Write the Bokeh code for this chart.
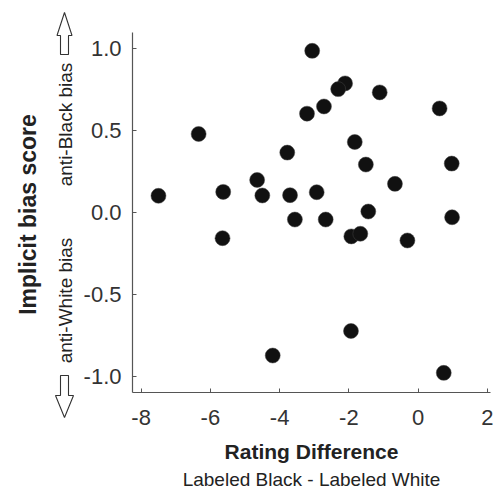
import math
from bokeh.plotting import figure
from bokeh.layouts import row
from bokeh.models import FixedTicker, NumeralTickFormatter, Title, Range1d
from bokeh.core.properties import value
from bokeh.embed import file_html
from bokeh.resources import INLINE

# data
rating_diff = [-3.06, -2.11, -2.31, -1.11, 0.62, -2.72, -3.21, -6.34, -1.83, -3.78,
               -1.51, 0.97, -4.65, -0.67, -7.50, -5.63, -4.50, -3.70, -2.93,
               -3.56, -2.67, -1.44, 0.98, -5.65, -1.93, -1.67, -0.31, -1.94, -4.20, 0.74]
bias_score = [0.988, 0.789, 0.754, 0.734, 0.636, 0.648, 0.604, 0.480, 0.431, 0.366,
              0.293, 0.299, 0.199, 0.175, 0.102, 0.126, 0.104, 0.106, 0.124,
              -0.043, -0.043, 0.006, -0.029, -0.157, -0.146, -0.130, -0.171, -0.724, -0.874, -0.980]
x_ticks = [-8, -6, -4, -2, 0, 2]
y_ticks = [-1.0, -0.5, 0.0, 0.5, 1.0]
y_title = "Implicit bias score"
y_upper_note = "anti-Black bias"
y_lower_note = "anti-White bias"
x_title = "Rating Difference"
x_subtitle = "Labeled Black - Labeled White"

FONT = "Liberation Sans"
TXT = "#222222"
AX = "#555555"
H = 494
SIDE_W = 80

x0, x1 = -8.25, 2.09
y0, y1 = -1.1, 1.1

# ---------- main scatter ----------
p = figure(width=493 - SIDE_W, height=H, output_backend="svg", toolbar_location=None,
           x_range=Range1d(x0, x1), y_range=Range1d(y0, y1),
           min_border_left=127 - SIDE_W, min_border_top=32, min_border_right=3,
           min_border_bottom=102)
p.frame_align = False
p.outline_line_color = None
p.grid.visible = False

p.scatter(rating_diff, bias_score, size=15, fill_color="#111111", line_color="#444444",
          line_width=0.5)

for ax in (p.xaxis[0], p.yaxis[0]):
    ax.axis_line_color = AX
    ax.axis_line_width = 1.2
    ax.major_tick_line_color = AX
    ax.major_tick_in = 4
    ax.major_tick_out = 0
    ax.minor_tick_line_color = None
    ax.major_label_text_font = FONT
    ax.major_label_text_font_size = "22px"
    ax.major_label_text_color = "#333333"
    ax.axis_label_text_font = FONT
    ax.axis_label_text_font_style = "bold"
    ax.axis_label_text_color = TXT

p.xaxis.ticker = FixedTicker(ticks=x_ticks)
p.yaxis.ticker = FixedTicker(ticks=y_ticks)
p.xaxis.formatter = NumeralTickFormatter(format="0")
p.yaxis.formatter = NumeralTickFormatter(format="0.0")
p.xaxis.major_label_standoff = 17
p.yaxis.major_label_standoff = 11

p.xaxis.axis_label = x_title
p.xaxis.axis_label_text_font_size = "21px"
p.xaxis.axis_label_standoff = 12

sub = Title(text=x_subtitle, align="center", text_font=FONT,
            text_font_size="19px", text_font_style="normal", text_color=TXT, offset=0,
            standoff=3)
p.add_layout(sub, "below")

# ---------- left strip: y title, bias notes, hollow arrows (pixel space) ----------
s = figure(width=SIDE_W, height=H, output_backend="svg", toolbar_location=None,
           x_range=Range1d(0, SIDE_W), y_range=Range1d(0, H),
           min_border=0, x_axis_type=None, y_axis_type=None)
s.frame_align = False
s.outline_line_color = None
s.grid.visible = False

def Y(py):
    return H - py

s.text(x=[27], y=[Y(214)], text=[y_title], angle=math.pi / 2, text_align="center",
       text_baseline="middle", text_font=value(FONT), text_font_size="23px",
       text_font_style="bold", text_color=TXT)
s.text(x=[65, 65], y=[Y(124), Y(300)], text=[y_upper_note, y_lower_note],
       angle=math.pi / 2, text_align="center", text_baseline="middle",
       text_font=value(FONT), text_font_size="19px", text_color=TXT)

def arrow(xc, tip, base, end, hw, sw):
    xs = [xc, xc + hw, xc + sw, xc + sw, xc - sw, xc - sw, xc - hw]
    ys = [Y(v) for v in (tip, base, base, end, end, base, base)]
    return xs, ys

ua = arrow(64, 12, 35, 54, 7.5, 4)
da = arrow(64, 417, 395, 375, 9, 4)
s.patches(xs=[ua[0], da[0]], ys=[ua[1], da[1]], fill_color="white",
          line_color="#333333", line_width=1.1)

layout = row(s, p, spacing=0)
open("out.html", "w").write(file_html(layout, INLINE))
